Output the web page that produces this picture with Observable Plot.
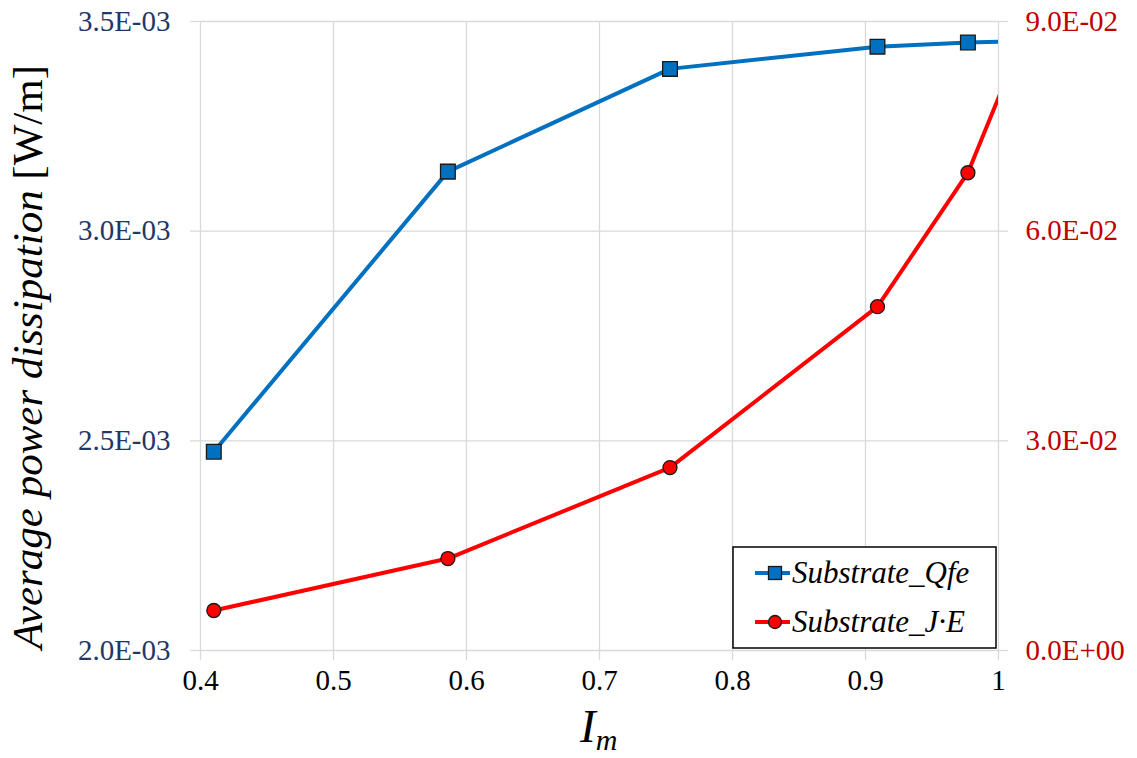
<!DOCTYPE html>
<html>
<head>
<meta charset="utf-8">
<script src="https://cdn.jsdelivr.net/npm/d3@7"></script>
<script src="https://cdn.jsdelivr.net/npm/@observablehq/plot@0.6"></script>
<style>
  html, body { margin: 0; padding: 0; background: #fff; }
  #chart { position: relative; width: 1137px; height: 758px; }
  #chart svg, #chart svg text, #chart svg tspan { font-family: "Liberation Serif", "Times New Roman", Times, "DejaVu Serif", serif !important; }
</style>
</head>
<body>
<div id="chart"></div>
<script>
// Data (last point lies beyond x = 1 and is clipped by the frame)
const im = [0.41, 0.586, 0.753, 0.909, 0.977, 1.05];
const substrateQfe = [2.474e-3, 3.142e-3, 3.387e-3, 3.440e-3, 3.450e-3, 3.455e-3];   // left axis [W/m]
const substrateJE  = [0.00572, 0.01316, 0.02617, 0.0492, 0.06836, 0.1024];          // right axis [W/m]

const xTicks = [0.4, 0.5, 0.6, 0.7, 0.8, 0.9, 1.0];
const leftTicks = [2.0e-3, 2.5e-3, 3.0e-3, 3.5e-3];
const rightTicks = [0, 0.03, 0.06, 0.09];

const seriesNames = ["Substrate_Qfe", "Substrate_J\u00B7E"];
const xLabel = "I";
const xLabelSub = "m";
const yLabelItalic = "Average power dissipation";
const yLabelUnit = " [W/m]";

const colBlue = "#0070C0", colRed = "#FF0000";
const colLeftText = "#1F3864", colRightText = "#C00000";

// map right-axis values onto the left-axis domain
const L0 = leftTicks[0], L1 = leftTicks[leftTicks.length - 1];
const R0 = rightTicks[0], R1 = rightTicks[rightTicks.length - 1];
const toLeft = v => L0 + (v - R0) / (R1 - R0) * (L1 - L0);
const toRight = v => R0 + (v - L0) / (L1 - L0) * (R1 - R0);

function fmtE(v) {
  if (Math.abs(v) < 1e-12) return "0.0E+00";
  let e = Math.floor(Math.log10(Math.abs(v)) + 1e-9);
  let m = v / Math.pow(10, e);
  if (Math.abs(m) >= 9.95) { m /= 10; e += 1; }
  return m.toFixed(1) + "E" + (e < 0 ? "-" : "+") + String(Math.abs(e)).padStart(2, "0");
}

const qfeData = im.map((x, i) => ({x, y: substrateQfe[i]}));
const jeData = im.map((x, i) => ({x, y: toLeft(substrateJE[i])}));
const inFrame = d => d.x <= 1.0;

const grid = "#d9d9d9";
const fs = 29;
const serif = '"Liberation Serif", "Times New Roman", Times, "DejaVu Serif", serif';

const plot = Plot.plot({
  width: 1137,
  height: 758,
  marginLeft: 200,
  marginRight: 139,
  marginTop: 21,
  marginBottom: 108,
  style: {fontFamily: serif, background: "white"},
  x: {domain: [0.4, 1.0]},
  y: {domain: [L0, L1]},
  marks: [
    Plot.gridX(xTicks, {stroke: grid, strokeOpacity: 1, strokeWidth: 1.3}),
    Plot.gridY(leftTicks, {stroke: grid, strokeOpacity: 1, strokeWidth: 1.3}),
    Plot.axisX(xTicks, {
      tickSize: 10, tickPadding: 9, stroke: grid, strokeWidth: 1.3, color: "#000",
      fontSize: fs, label: null,
      tickFormat: d => (d === 1 ? "1" : d.toFixed(1))
    }),
    Plot.axisY(leftTicks, {
      anchor: "left", tickSize: 10, tickPadding: 20, stroke: grid, strokeWidth: 1.3,
      color: colLeftText, fontSize: fs, label: null, tickFormat: fmtE
    }),
    Plot.axisY(rightTicks.map(toLeft), {
      anchor: "right", tickSize: 9, tickPadding: 18, stroke: grid, strokeWidth: 1.3,
      color: colRightText, fontSize: fs, label: null,
      tickFormat: d => fmtE(Math.round(toRight(d) * 1e6) / 1e6)
    }),
    Plot.line(qfeData, {x: "x", y: "y", stroke: colBlue, strokeWidth: 4, clip: true}),
    Plot.line(jeData, {x: "x", y: "y", stroke: colRed, strokeWidth: 4, clip: true}),
    Plot.dot(qfeData.filter(inFrame), {x: "x", y: "y", symbol: "square", r: 8.3, fill: colBlue, stroke: "#1a1a1a", strokeWidth: 1.3}),
    Plot.dot(jeData.filter(inFrame), {x: "x", y: "y", symbol: "circle", r: 7, fill: colRed, stroke: "#1a1a1a", strokeWidth: 1.3})
  ]
});

document.getElementById("chart").appendChild(plot);

// Axis titles and legend
const svg = d3.select(plot);

const yl = svg.append("text")
  .attr("transform", "translate(42,357) rotate(-90)")
  .attr("text-anchor", "middle")
  .attr("font-family", serif)
  .attr("font-size", 43)
  .attr("fill", "#000");
yl.append("tspan").attr("font-style", "italic").text(yLabelItalic);
yl.append("tspan").text(yLabelUnit);

const xl = svg.append("text")
  .attr("x", 580).attr("y", 742)
  .attr("text-anchor", "start")
  .attr("font-family", serif)
  .attr("font-style", "italic")
  .attr("font-size", 47)
  .attr("fill", "#000");
xl.append("tspan").text(xLabel);
xl.append("tspan").attr("font-size", 30).attr("dy", 8).text(xLabelSub);

const lg = svg.append("g");
lg.append("rect")
  .attr("x", 733).attr("y", 547).attr("width", 263).attr("height", 101)
  .attr("fill", "white").attr("stroke", "#000").attr("stroke-width", 1.5);
const rows = [
  {name: seriesNames[0], color: colBlue, sym: "square", y: 573},
  {name: seriesNames[1], color: colRed, sym: "circle", y: 622}
];
rows.forEach(r => {
  lg.append("line").attr("x1", 755).attr("x2", 790).attr("y1", r.y).attr("y2", r.y)
    .attr("stroke", r.color).attr("stroke-width", 4);
  if (r.sym === "square") {
    lg.append("rect").attr("x", 775 - 6.5).attr("y", r.y - 6.5).attr("width", 13).attr("height", 13)
      .attr("fill", r.color).attr("stroke", "#1a1a1a").attr("stroke-width", 1.3);
  } else {
    lg.append("circle").attr("cx", 775).attr("cy", r.y).attr("r", 6.5)
      .attr("fill", r.color).attr("stroke", "#1a1a1a").attr("stroke-width", 1.3);
  }
  lg.append("text").attr("x", 792).attr("y", r.y + 10)
    .attr("text-anchor", "start")
    .attr("font-family", serif).attr("font-style", "italic").attr("font-size", 31)
    .attr("fill", "#000").text(r.name);
});
</script>
</body>
</html>
